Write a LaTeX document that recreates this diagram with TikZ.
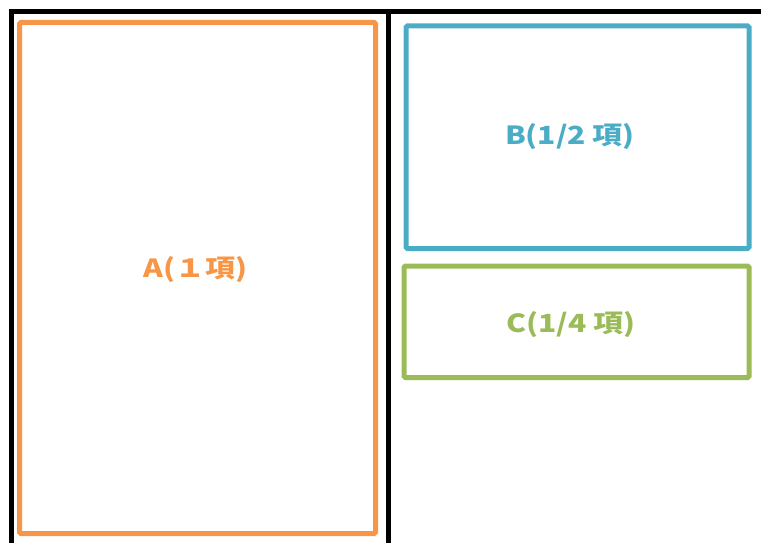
\documentclass[tikz,border=0pt]{standalone}
\usepackage{fontspec}
\newfontfamily\jp{Noto Sans CJK JP}
\definecolor{aorange}{RGB}{247,150,70}
\definecolor{bblue}{RGB}{75,172,198}
\definecolor{cgreen}{RGB}{155,187,89}
\newcommand{\wide}[1]{\scalebox{1.2}[1]{#1}}
\begin{document}
\begin{tikzpicture}[x=1pt,y=-1pt,
  frame/.style={draw=black,line width=5pt},
  part/.style={draw=#1,line width=5pt,rounded corners=1.5pt,inner sep=0pt},
  tag/.style={text=#1,font=\jp\bfseries\fontsize{25}{28}\selectfont,inner sep=0pt},
]
\useasboundingbox (0,0) rectangle (761,543);
\coordinate (fl) at (11,545);
\coordinate (ftl) at (11,11.5);
\coordinate (ftr) at (763,11.5);
\coordinate (fmt) at (388.5,11.5);
\coordinate (fmb) at (388.5,545);
\draw[frame] (fl) -- (ftl) -- (ftr);
\draw[frame] (fmt) -- (fmb);
\node[part=aorange,minimum width=356pt,minimum height=511pt,
  label={[tag=aorange,xshift=-2pt,yshift=8pt]center:\wide{A(１項)}}] (A) at (197.5,278) {};
\node[part=bblue,minimum width=343pt,minimum height=222.5pt,
  label={[tag=bblue,xshift=-7.5pt,yshift=1pt]center:\wide{B(1/2 項)}}] (B) at (577.5,137.25) {};
\node[part=cgreen,minimum width=345pt,minimum height=111.5pt,
  label={[tag=cgreen,xshift=-5.5pt,yshift=-3pt]center:\wide{C(1/4 項)}}] (C) at (576.5,321.75) {};
\end{tikzpicture}
\end{document}
